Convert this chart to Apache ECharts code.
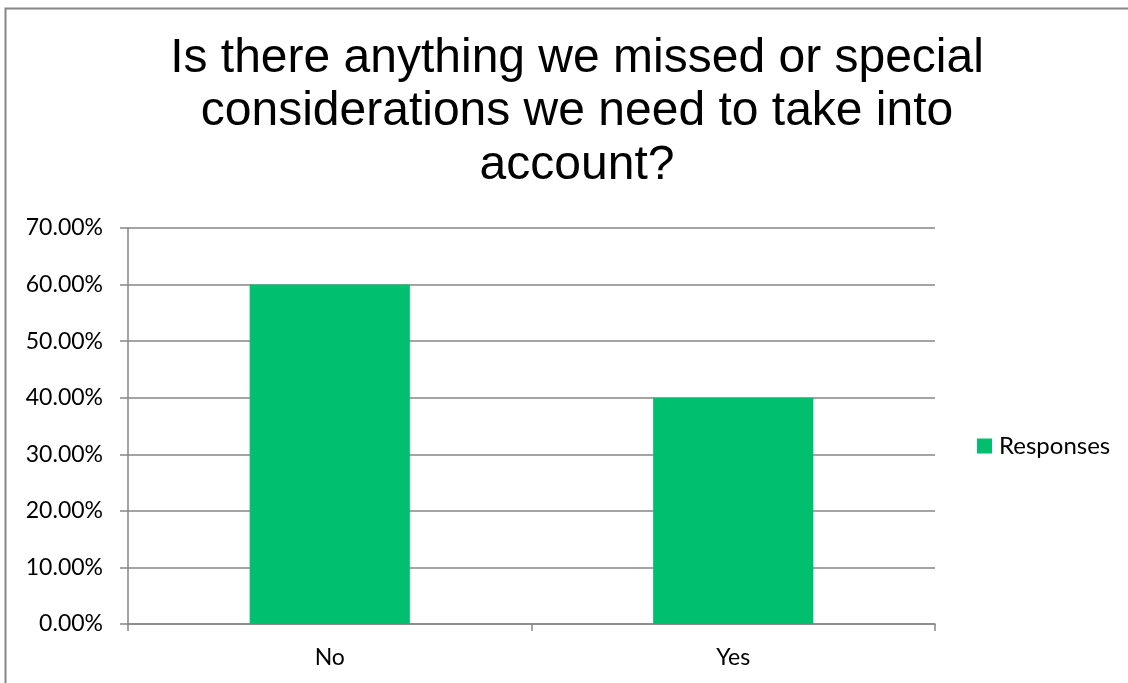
<!DOCTYPE html>
<html><head><meta charset="utf-8">
<script src="https://cdn.jsdelivr.net/npm/echarts@6/dist/echarts.min.js"></script>
<style>html,body{margin:0;padding:0;background:#fff}#c{width:1128px;height:683px}</style>
</head><body><div id="c"></div>
<script>
const titleText = "Is there anything we missed or special\nconsiderations we need to take into\naccount?";
const categories = ["No", "Yes"];
const seriesName = "Responses";
const values = [0.60, 0.40];
const yMin = 0, yMax = 0.70, yInterval = 0.10;

const chart = echarts.init(document.getElementById('c'));
const gray = '#868686';
chart.setOption({
  animation: false,
  backgroundColor: '#fff',
  title: {
    text: titleText, left: 572, textAlign: 'center', top: 27,
    textStyle: { fontFamily: 'Liberation Sans', fontSize: 48, fontWeight: 'normal', color: '#000', lineHeight: 53.5 }
  },
  legend: {
    data: [seriesName], orient: 'vertical', left: 972, top: 429,
    itemWidth: 15, itemHeight: 15, itemGap: 6, icon: 'rect',
    textStyle: { fontFamily: 'Lato', fontSize: 24, color: '#000', padding: [0, 0, 0, 2] }
  },
  grid: { left: 128, right: 193, top: 228, bottom: 59, containLabel: false },
  xAxis: {
    type: 'category', data: categories,
    axisLine: { show: true, lineStyle: { color: gray, width: 1.5 } },
    axisTick: { show: true, alignWithLabel: false, length: 7, lineStyle: { color: gray, width: 1.5 } },
    axisLabel: { fontFamily: 'Lato', fontSize: 23, color: '#000', margin: 22 }
  },
  yAxis: {
    type: 'value', min: yMin, max: yMax, interval: yInterval,
    axisLine: { show: true, lineStyle: { color: gray, width: 1.5 } },
    axisTick: { show: true, inside: false, length: 8, lineStyle: { color: gray, width: 1.5 } },
    splitLine: { show: true, lineStyle: { color: gray, width: 1.5 } },
    axisLabel: { fontFamily: 'Lato', fontSize: 23, color: '#000', margin: 25,
      formatter: v => (v * 100).toFixed(2) + '%' }
  },
  series: [{
    name: seriesName, type: 'bar', data: values, barWidth: '39.7%',
    itemStyle: { color: '#00BF6F' }
  }],
  graphic: [{
    type: 'polyline', silent: true,
    shape: { points: [[5.5, 700], [5.5, 8.5], [1130, 8.5]] },
    style: { stroke: gray, lineWidth: 2, fill: null }
  }]
});
</script></body></html>
